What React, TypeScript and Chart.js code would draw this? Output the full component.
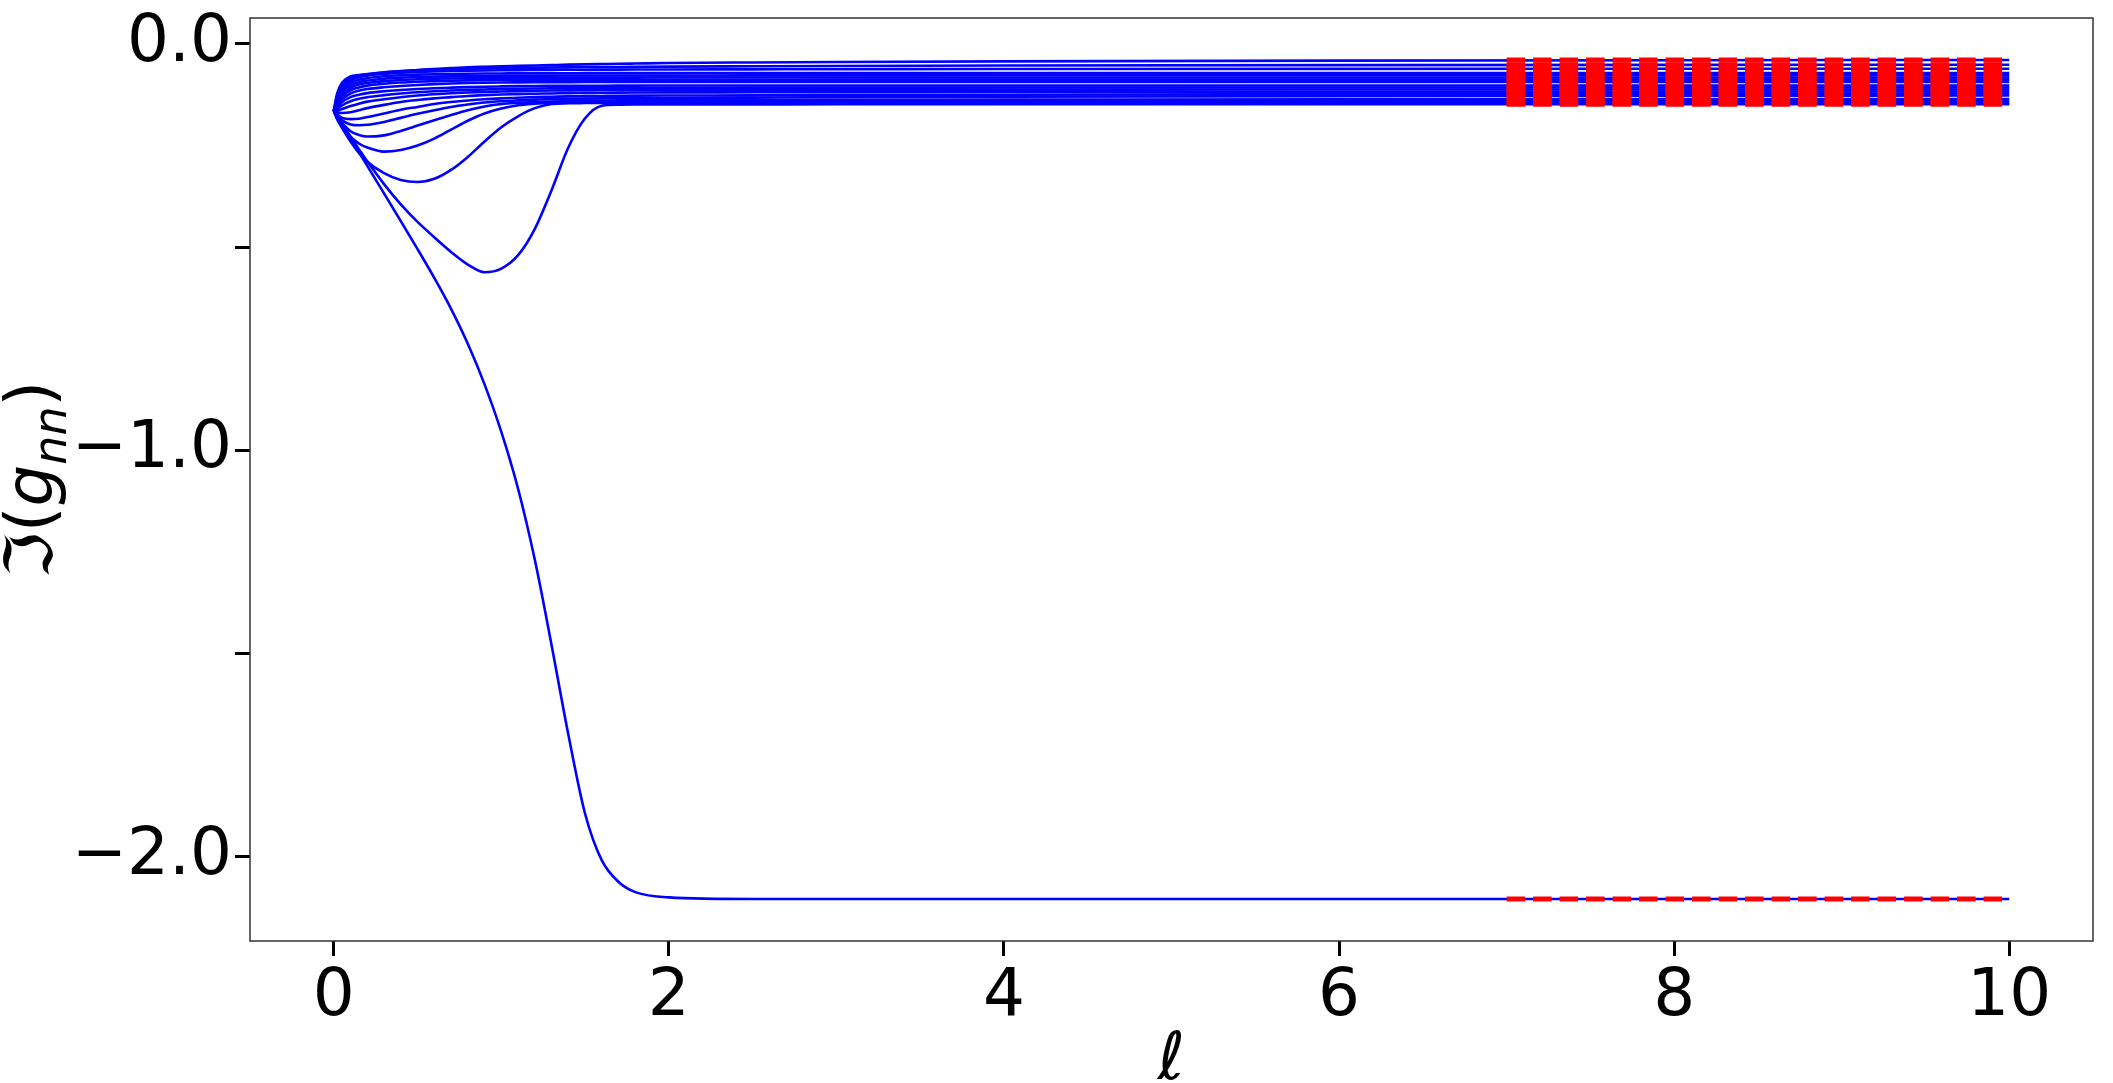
import React, { useEffect, useRef } from "react";
import { Chart, registerables } from "chart.js";

Chart.register(...registerables);

// shared abscissa grid (ℓ)
const ELL = [0, 0.02, 0.05, 0.1, 0.15, 0.2, 0.3, 0.4, 0.5, 0.6, 0.7, 0.8, 0.9, 1.0, 1.1, 1.2, 1.3, 1.4, 1.5, 1.6, 1.7, 1.8, 2.0, 2.5, 3, 4, 6, 8, 10];

// Im(g_nn) curves
const G_DEEP = [-0.165, -0.178, -0.198, -0.232, -0.266, -0.300, -0.368, -0.436, -0.505, -0.576, -0.652, -0.738, -0.838, -0.955, -1.095, -1.270, -1.480, -1.700, -1.895, -2.010, -2.063, -2.088, -2.101, -2.105, -2.105, -2.105, -2.105, -2.105, -2.105];
const G_D2 = [-0.165, -0.177, -0.196, -0.228, -0.259, -0.289, -0.345, -0.395, -0.438, -0.476, -0.512, -0.543, -0.562, -0.553, -0.520, -0.455, -0.360, -0.255, -0.183, -0.152, -0.1495, -0.149, -0.1488, -0.1487, -0.1486, -0.1486, -0.1485, -0.1485, -0.1485];
const G_D3 = [-0.165, -0.185, -0.207, -0.240, -0.268, -0.290, -0.318, -0.335, -0.340, -0.332, -0.310, -0.278, -0.240, -0.205, -0.178, -0.158, -0.148, -0.146, -0.1455, -0.1452, -0.1451, -0.145, -0.145, -0.1449, -0.1449, -0.1448, -0.1448, -0.1448, -0.1448];
const G_D4 = [-0.165, -0.183, -0.202, -0.228, -0.245, -0.255, -0.265, -0.261, -0.250, -0.233, -0.211, -0.189, -0.171, -0.159, -0.151, -0.147, -0.1445, -0.143, -0.1425, -0.142, -0.1418, -0.1416, -0.1414, -0.1412, -0.141, -0.1408, -0.1406, -0.1405, -0.1404];
const G_D5 = [-0.165, -0.180, -0.195, -0.215, -0.224, -0.228, -0.225, -0.214, -0.201, -0.188, -0.175, -0.163, -0.154, -0.148, -0.145, -0.143, -0.1415, -0.1405, -0.140, -0.1395, -0.139, -0.1388, -0.1385, -0.138, -0.1375, -0.137, -0.136, -0.1357, -0.1355];
const G_D6 = [-0.165, -0.176, -0.188, -0.198, -0.200, -0.199, -0.192, -0.182, -0.172, -0.163, -0.155, -0.149, -0.144, -0.141, -0.139, -0.137, -0.136, -0.135, -0.1345, -0.134, -0.1335, -0.1333, -0.133, -0.132, -0.131, -0.130, -0.1285, -0.1275, -0.1268];
const G_D7 = [-0.165, -0.173, -0.182, -0.185, -0.184, -0.180, -0.171, -0.162, -0.155, -0.148, -0.143, -0.139, -0.136, -0.134, -0.1325, -0.131, -0.130, -0.129, -0.1285, -0.128, -0.1275, -0.1272, -0.127, -0.1265, -0.126, -0.125, -0.1235, -0.1225, -0.1219];
const G_R12 = [-0.165, -0.168, -0.170, -0.168, -0.163, -0.158, -0.150, -0.143, -0.138, -0.134, -0.131, -0.128, -0.126, -0.1245, -0.1235, -0.1225, -0.1218, -0.121, -0.1205, -0.120, -0.1197, -0.1195, -0.1193, -0.119, -0.1188, -0.1183, -0.1178, -0.1174, -0.117];
const G_R11 = [-0.165, -0.164, -0.160, -0.153, -0.147, -0.142, -0.136, -0.131, -0.127, -0.124, -0.1215, -0.1195, -0.118, -0.117, -0.116, -0.1153, -0.1147, -0.1142, -0.1138, -0.1135, -0.1133, -0.1131, -0.1129, -0.1127, -0.1126, -0.1124, -0.1123, -0.1122, -0.1121];
const G_R10 = [-0.165, -0.160, -0.151, -0.141, -0.135, -0.131, -0.126, -0.122, -0.119, -0.1165, -0.1145, -0.113, -0.112, -0.111, -0.1102, -0.1096, -0.1091, -0.1087, -0.1084, -0.1082, -0.108, -0.1079, -0.1078, -0.1076, -0.1075, -0.1073, -0.1072, -0.1071, -0.1071];
const G_R9 = [-0.165, -0.156, -0.143, -0.131, -0.125, -0.121, -0.1165, -0.1135, -0.111, -0.109, -0.1075, -0.1062, -0.1052, -0.1045, -0.1039, -0.1035, -0.1032, -0.103, -0.1028, -0.1027, -0.1026, -0.1025, -0.1024, -0.1023, -0.1023, -0.1022, -0.1022, -0.1022, -0.1022];
const G_R8 = [-0.165, -0.152, -0.136, -0.122, -0.115, -0.111, -0.1065, -0.1035, -0.101, -0.099, -0.0975, -0.0963, -0.0955, -0.0949, -0.0945, -0.0942, -0.094, -0.0939, -0.0938, -0.0937, -0.0937, -0.0936, -0.0936, -0.0936, -0.0936, -0.0936, -0.0936, -0.0936, -0.0936];
const G_R7 = [-0.165, -0.148, -0.129, -0.114, -0.107, -0.1025, -0.098, -0.095, -0.093, -0.0915, -0.0905, -0.0897, -0.0891, -0.0887, -0.0885, -0.0884, -0.0883, -0.0882, -0.0882, -0.0881, -0.0881, -0.088, -0.088, -0.088, -0.0879, -0.0879, -0.0879, -0.0879, -0.0879];
const G_R6 = [-0.165, -0.144, -0.123, -0.108, -0.100, -0.096, -0.0915, -0.089, -0.087, -0.0858, -0.0849, -0.0843, -0.0839, -0.0836, -0.0834, -0.0832, -0.0831, -0.083, -0.0829, -0.0829, -0.0828, -0.0828, -0.0827, -0.0827, -0.0826, -0.0826, -0.0825, -0.0825, -0.0825];
const G_R5 = [-0.165, -0.140, -0.117, -0.102, -0.094, -0.090, -0.0855, -0.083, -0.0815, -0.0805, -0.0797, -0.0791, -0.0787, -0.0784, -0.0782, -0.078, -0.0779, -0.0778, -0.0777, -0.0776, -0.0776, -0.0775, -0.0775, -0.0774, -0.0773, -0.0772, -0.0772, -0.0771, -0.0771];
const G_R4 = [-0.165, -0.136, -0.111, -0.096, -0.088, -0.084, -0.0795, -0.077, -0.0755, -0.0745, -0.0738, -0.0733, -0.0729, -0.0726, -0.0724, -0.0722, -0.0721, -0.072, -0.0719, -0.0718, -0.0718, -0.0717, -0.0717, -0.0716, -0.0716, -0.0715, -0.0715, -0.0714, -0.0714];
const G_R3 = [-0.165, -0.131, -0.105, -0.090, -0.082, -0.078, -0.0735, -0.071, -0.069, -0.0677, -0.0667, -0.0659, -0.0653, -0.0648, -0.0644, -0.0641, -0.0638, -0.0636, -0.0634, -0.0632, -0.0631, -0.063, -0.0628, -0.0625, -0.0622, -0.0618, -0.0614, -0.0612, -0.0611];
const G_R2 = [-0.165, -0.127, -0.100, -0.085, -0.078, -0.074, -0.0695, -0.067, -0.065, -0.0635, -0.0622, -0.0612, -0.0603, -0.0596, -0.059, -0.0585, -0.058, -0.0576, -0.0572, -0.0569, -0.0566, -0.0563, -0.0558, -0.0549, -0.0541, -0.053, -0.052, -0.0515, -0.0512];
const G_R1 = [-0.165, -0.122, -0.095, -0.080, -0.0765, -0.0745, -0.0705, -0.0665, -0.064, -0.0615, -0.0594, -0.0575, -0.0562, -0.055, -0.054, -0.053, -0.052, -0.051, -0.0502, -0.0495, -0.0488, -0.0482, -0.047, -0.0455, -0.0445, -0.043, -0.041, -0.040, -0.0394];

const CURVES = [G_DEEP, G_D2, G_D3, G_D4, G_D5, G_D6, G_D7, G_R12, G_R11, G_R10, G_R9, G_R8, G_R7, G_R6, G_R5, G_R4, G_R3, G_R2, G_R1];

// asymptotic levels (red dashed) over ℓ ∈ [7, 10]
const RED_X = [7, 10];
const RED_LEVELS = [-2.105, -0.1485, -0.1448, -0.1404, -0.1355, -0.1268, -0.1219, -0.117, -0.1121, -0.1071, -0.1022, -0.0936, -0.0879, -0.0825, -0.0771, -0.0714, -0.0611, -0.0512, -0.0394];

const X_TICKS = [0, 2, 4, 6, 8, 10];
const X_TICK_LABELS = ["0", "2", "4", "6", "8", "10"];
const Y_TICKS = [-2.0, -1.5, -1.0, -0.5, 0.0];
const Y_TICK_LABELS = ["\u22122.0", "", "\u22121.0", "", "0.0"];
const X_TITLE = "\u2113";
const Y_TITLE_PARTS = ["\u2111(", "g", "nn", ")"];

const FONT = '"DejaVu Sans"';

const framePlugin = {
  id: "frameAndTitles",
  afterDraw(chart: any) {
    const ctx = chart.ctx as CanvasRenderingContext2D;
    const a = chart.chartArea;
    ctx.save();
    ctx.strokeStyle = "#333";
    ctx.lineWidth = 1.5;
    ctx.strokeRect(a.left, a.top, a.right - a.left, a.bottom - a.top);

    ctx.fillStyle = "#000";
    ctx.font = `italic 66px ${FONT}`;
    ctx.textAlign = "center";
    ctx.textBaseline = "alphabetic";
    ctx.fillText(X_TITLE, (a.left + a.right) / 2, 1079);

    // y title, rotated
    const pieces = [
      { t: Y_TITLE_PARTS[0], f: `66px ${FONT}`, dy: 0 },
      { t: Y_TITLE_PARTS[1], f: `italic 66px ${FONT}`, dy: 0 },
      { t: Y_TITLE_PARTS[2], f: `italic 46px ${FONT}`, dy: 14 },
      { t: Y_TITLE_PARTS[3], f: `66px ${FONT}`, dy: 0 },
    ];
    let total = 0;
    const widths = pieces.map((p) => {
      ctx.font = p.f;
      const w = ctx.measureText(p.t).width;
      total += w;
      return w;
    });
    ctx.translate(52, (a.top + a.bottom) / 2);
    ctx.rotate(-Math.PI / 2);
    ctx.textAlign = "left";
    let x = -total / 2;
    pieces.forEach((p, i) => {
      ctx.font = p.f;
      ctx.fillText(p.t, x, p.dy);
      x += widths[i];
    });
    ctx.restore();
  },
};

export default function App() {
  const ref = useRef<HTMLCanvasElement | null>(null);
  useEffect(() => {
    document.body.style.margin = "0";
    if (!ref.current) return;
    const blue = CURVES.map((ys, i) => ({
      label: `n${i}`,
      data: ELL.map((x, j) => ({ x, y: ys[j] })),
      borderColor: "#0000ff",
      borderWidth: 2.6,
      pointRadius: 0,
      cubicInterpolationMode: "monotone" as const,
      fill: false,
      order: 2,
    }));
    const red = RED_LEVELS.map((v, i) => ({
      label: `a${i}`,
      data: RED_X.map((x) => ({ x, y: v })),
      borderColor: "#ff0000",
      borderWidth: 5,
      borderDash: [18.5, 8],
      pointRadius: 0,
      fill: false,
      order: 1,
    }));
    const chart = new Chart(ref.current, {
      type: "line",
      data: { datasets: [...blue, ...red] as any },
      options: {
        animation: false,
        responsive: false,
        devicePixelRatio: 1,
        layout: { padding: { top: 18, right: 20, left: 0, bottom: 0 } },
        plugins: { legend: { display: false }, tooltip: { enabled: false } },
        scales: {
          x: {
            type: "linear",
            min: -0.5,
            max: 10.5,
            afterFit: (s: any) => { s.height = 142; s.paddingLeft = 0; s.paddingRight = 0; },
            afterBuildTicks: (s: any) => { s.ticks = X_TICKS.map((v) => ({ value: v })); },
            ticks: {
              autoSkip: false,
              maxRotation: 0,
              padding: 2,
              color: "#000",
              font: { family: "DejaVu Sans", size: 66 },
              callback: (_v: any, i: number) => X_TICK_LABELS[i],
            },
            grid: { drawOnChartArea: false, drawTicks: true, tickLength: 15, tickWidth: 3, tickColor: "#000", color: "#000", lineWidth: 3 },
            border: { display: false },
          },
          y: {
            type: "linear",
            min: -2.2083,
            max: 0.0639,
            afterFit: (s: any) => { s.width = 250; s.paddingTop = 0; s.paddingBottom = 0; },
            afterBuildTicks: (s: any) => { s.ticks = Y_TICKS.map((v) => ({ value: v })); },
            ticks: {
              autoSkip: false,
              padding: 3,
              color: "#000",
              font: { family: "DejaVu Sans", size: 66 },
              callback: (_v: any, i: number) => Y_TICK_LABELS[i],
            },
            grid: { drawOnChartArea: false, drawTicks: true, tickLength: 15, tickWidth: 3, tickColor: "#000", color: "#000", lineWidth: 3 },
            border: { display: false },
          },
        },
      },
      plugins: [framePlugin],
    });
    return () => chart.destroy();
  }, []);
  return (
    <div style={{ width: 2113, height: 1083 }}>
      <canvas ref={ref} width={2113} height={1083} />
    </div>
  );
}
